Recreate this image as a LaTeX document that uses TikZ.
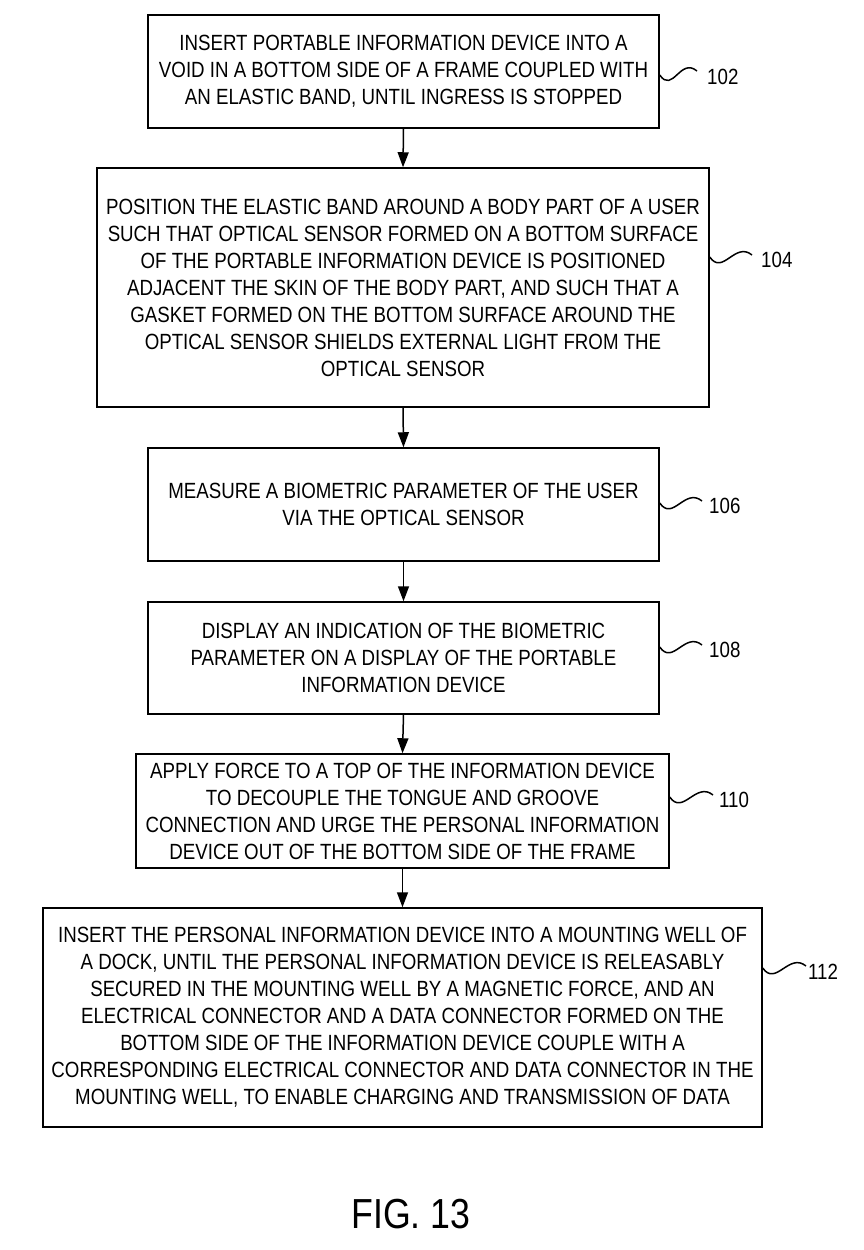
\documentclass[tikz,border=0pt]{standalone}
\usepackage{fontspec}
\setmainfont{Liberation Sans}[FakeStretch=0.85]
\usetikzlibrary{arrows.meta}
\begin{document}
\begin{tikzpicture}[x=1pt,y=-1pt,
  stepbox/.style={draw=black,line width=1.5pt,inner sep=0pt,align=center,
    font=\fontsize{22}{27}\selectfont},
  flow/.style={line width=1.5pt,-{Triangle[length=15pt,width=11pt]}},
  squig/.style={line width=1.5pt},
  reflabel/.style={anchor=west,inner sep=0pt,font=\fontsize{22}{27}\selectfont}]
\useasboundingbox[fill=white] (0,0) rectangle (864,1250);

\node[stepbox,minimum width=511pt,minimum height=113pt] (b102) at (403.5,71.5)
 {INSERT PORTABLE INFORMATION DEVICE INTO A\\VOID IN A BOTTOM SIDE OF A FRAME COUPLED WITH\\AN ELASTIC BAND, UNTIL INGRESS IS STOPPED};
\node[stepbox,minimum width=612pt,minimum height=239pt] (b104) at (403,287.5)
 {POSITION THE ELASTIC BAND AROUND A BODY PART OF A USER\\SUCH THAT OPTICAL SENSOR FORMED ON A BOTTOM SURFACE\\OF THE PORTABLE INFORMATION DEVICE IS POSITIONED\\ADJACENT THE SKIN OF THE BODY PART, AND SUCH THAT A\\GASKET FORMED ON THE BOTTOM SURFACE AROUND THE\\OPTICAL SENSOR SHIELDS EXTERNAL LIGHT FROM THE\\OPTICAL SENSOR};
\node[stepbox,minimum width=511pt,minimum height=113pt] (b106) at (403.5,504.5)
 {MEASURE A BIOMETRIC PARAMETER OF THE USER\\VIA THE OPTICAL SENSOR};
\node[stepbox,minimum width=511pt,minimum height=112pt] (b108) at (403.5,658)
 {DISPLAY AN INDICATION OF THE BIOMETRIC\\PARAMETER ON A DISPLAY OF THE PORTABLE\\INFORMATION DEVICE};
\node[stepbox,minimum width=533pt,minimum height=114pt] (b110) at (402.5,811)
 {APPLY FORCE TO A TOP OF THE INFORMATION DEVICE\\TO DECOUPLE THE TONGUE AND GROOVE\\CONNECTION AND URGE THE PERSONAL INFORMATION\\DEVICE OUT OF THE BOTTOM SIDE OF THE FRAME};
\node[stepbox,minimum width=719pt,minimum height=219pt] (b112) at (402.5,1017.5)
 {INSERT THE PERSONAL INFORMATION DEVICE INTO A MOUNTING WELL OF\\A DOCK, UNTIL THE PERSONAL INFORMATION DEVICE IS RELEASABLY\\SECURED IN THE MOUNTING WELL BY A MAGNETIC FORCE, AND AN\\ELECTRICAL CONNECTOR AND A DATA CONNECTOR FORMED ON THE\\BOTTOM SIDE OF THE INFORMATION DEVICE COUPLE WITH A\\CORRESPONDING ELECTRICAL CONNECTOR AND DATA CONNECTOR IN THE\\MOUNTING WELL, TO ENABLE CHARGING AND TRANSMISSION OF DATA};

\draw[flow] (b102.south) -- (b104.north);
\draw[flow] (b104.south) -- (b106.north);
\draw[flow] (b106.south) -- (b108.north);
\draw[flow] (b108.south) -- (b110.north);
\draw[flow] (b110.south) -- (b112.north);

% reference labels
\node[reflabel] (l102) at (707,77) {102};
\node[reflabel] (l104) at (761,260) {104};
\node[reflabel] (l106) at (709,506) {106};
\node[reflabel] (l108) at (709,650) {108};
\node[reflabel] (l110) at (719,800) {110};
\node[reflabel] (l112) at (808,972) {112};

\coordinate (y102) at (0,75);   \coordinate (e102) at (697,71);
\coordinate (y104) at (0,257);  \coordinate (e104) at (752,255);
\coordinate (y106) at (0,503);  \coordinate (e106) at (702,501);
\coordinate (y108) at (0,647);  \coordinate (e108) at (702,645);
\coordinate (y110) at (0,797);  \coordinate (e110) at (713,795);
\coordinate (y112) at (0,968);  \coordinate (e112) at (806,966);

\foreach \k in {102,104,106,108,110,112}{
  \draw[squig] (b\k.east |- y\k) .. controls +(13,19) and +(-17,-14) .. (e\k);
}

\node[font=\fontsize{42}{46}\selectfont,inner sep=0pt] (fig) at (411,1214) {FIG. 13};
\end{tikzpicture}
\end{document}
